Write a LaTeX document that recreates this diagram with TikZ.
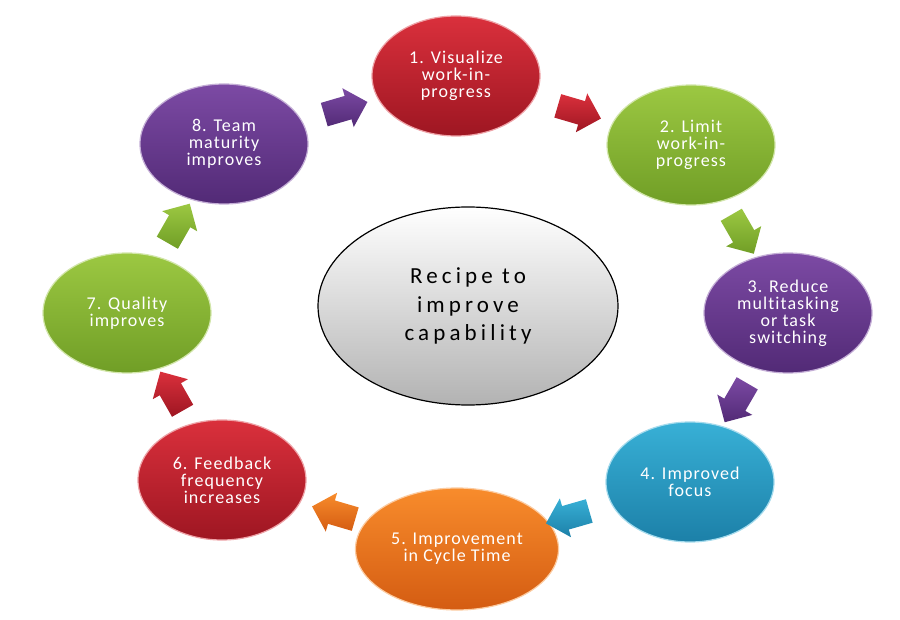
\documentclass[tikz,border=0pt]{standalone}
\usepackage{fontspec}
\setmainfont{Carlito}
\newfontfamily\stagefont[LetterSpace=6,Ligatures=NoCommon]{Carlito}
\newfontfamily\hubfont[LetterSpace=18,Ligatures=NoCommon]{Carlito}
\usetikzlibrary{shapes.geometric,shapes.arrows,calc}

% colours of the stages (top and bottom of the shading)
\definecolor{redtop}{RGB}{218,48,60}
\definecolor{redbot}{RGB}{158,22,34}
\definecolor{greentop}{RGB}{156,200,66}
\definecolor{greenbot}{RGB}{112,158,38}
\definecolor{purpletop}{RGB}{124,74,164}
\definecolor{purplebot}{RGB}{82,42,118}
\definecolor{bluetop}{RGB}{56,176,214}
\definecolor{bluebot}{RGB}{28,128,168}
\definecolor{orangetop}{RGB}{248,140,44}
\definecolor{orangebot}{RGB}{212,92,18}

\tikzset{
  stage/.style={ellipse, minimum width=168pt, minimum height=120pt, inner sep=0pt,
    align=center, text=white, line width=1.2pt,
    font=\stagefont\fontsize{18}{17}\selectfont},
  hub/.style={ellipse, minimum width=300pt, minimum height=198pt, inner sep=0pt,
    align=center, draw=black, line width=1.2pt, top color=white, bottom color=black!30,
    font=\hubfont\fontsize{23}{28.5}\selectfont},
  turn/.style={single arrow, minimum height=45pt, inner xsep=0pt, inner ysep=12pt,
    single arrow head extend=8pt}
}

\begin{document}
\begin{tikzpicture}[x=1pt,y=1pt]
  \useasboundingbox[fill=white] (0,0) rectangle (900,619);

  \node[hub] (hub) at (468,313) {Recipe to\\improve\\capability};

  \node[stage, top color=redtop, bottom color=redbot, draw=redtop!45!white] (c1) at (456,543) {1. Visualize\\work-in-\\progress};
  \node[stage, top color=greentop, bottom color=greenbot, draw=greentop!45!white] (c2) at (691,474) {2. Limit\\work-in-\\progress};
  \node[stage, top color=purpletop, bottom color=purplebot, draw=purpletop!45!white] (c3) at (788,306) {3. Reduce\\multitasking\\or task\\switching};
  \node[stage, top color=bluetop, bottom color=bluebot, draw=bluetop!45!white] (c4) at (690,137) {4. Improved\\focus};
  \node[stage, minimum width=203pt, minimum height=122pt, top color=orangetop, bottom color=orangebot, draw=orangetop!45!white] (c5) at (457,70) {5. Improvement\\in Cycle Time};
  \node[stage, top color=redtop, bottom color=redbot, draw=redtop!45!white] (c6) at (222,139) {6. Feedback\\frequency\\increases};
  \node[stage, top color=greentop, bottom color=greenbot, draw=greentop!45!white] (c7) at (127,306) {7. Quality\\improves};
  \node[stage, top color=purpletop, bottom color=purplebot, draw=purpletop!45!white] (c8) at (224,475) {8. Team\\maturity\\improves};

  % block arrows half way between the stages
  \foreach \a/\b/\col in {c8/c1/purple, c1/c2/red, c2/c3/green, c3/c4/purple,
                          c4/c5/blue, c5/c6/orange, c6/c7/red, c7/c8/green}
    \path let \p1=($(\b)-(\a)$), \n1={atan2(\y1,\x1)} in
      node[turn, rotate=\n1, top color=\col top, bottom color=\col bot] at ($(\a)!0.5!(\b)$) {};
\end{tikzpicture}
\end{document}
